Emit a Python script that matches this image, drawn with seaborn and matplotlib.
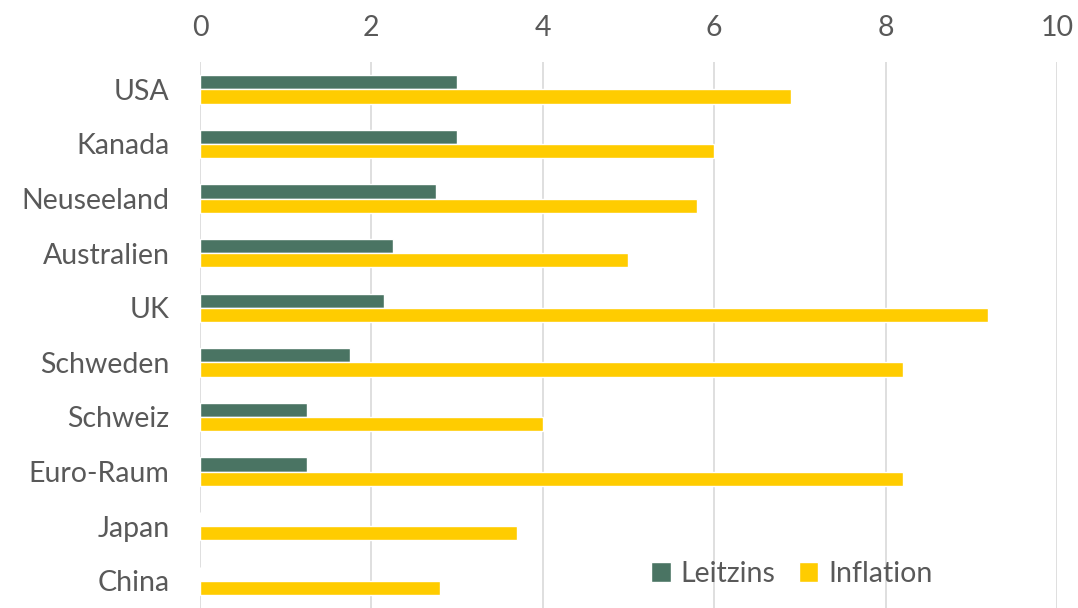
import pandas as pd
import seaborn as sns
import matplotlib.pyplot as plt

# Data
countries = ["USA", "Kanada", "Neuseeland", "Australien", "UK",
             "Schweden", "Schweiz", "Euro-Raum", "Japan", "China"]
leitzins = [3.0, 3.0, 2.75, 2.25, 2.15, 1.75, 1.25, 1.25, 0.0, 0.0]
inflation = [6.9, 6.0, 5.8, 5.0, 9.2, 8.2, 4.0, 8.2, 3.7, 2.8]
series = ["Leitzins", "Inflation"]
colors = ["#4a7463", "#ffcc00"]
x_ticks = [0, 2, 4, 6, 8, 10]

def main():
    sns.set_style("white")
    plt.rcParams['font.family'] = ['Lato', 'DejaVu Sans']

    df = pd.DataFrame({"Land": countries, "Leitzins": leitzins, "Inflation": inflation})
    df_long = df.melt(id_vars="Land", value_vars=series, var_name="Serie", value_name="Wert")

    fig = plt.figure(figsize=(10.78, 6.08), dpi=100)
    ax = fig.add_axes([0.1855, 0.0, 0.795, 0.898])

    sns.barplot(data=df_long, y="Land", x="Wert", hue="Serie", order=countries,
                hue_order=series, palette=colors, orient="h", width=0.52,
                saturation=1, ax=ax)

    ax.set_xlim(0, 10)
    ax.set_xticks(x_ticks)
    ax.set_ylim(len(countries) - 0.5, -0.5)
    ax.xaxis.tick_top()
    ax.set_xlabel("")
    ax.set_ylabel("")
    ax.tick_params(axis="x", length=0, pad=15, labelsize=20.5, labelcolor="#595959")
    ax.tick_params(axis="y", length=0, pad=22, labelsize=20.5, labelcolor="#595959")
    ax.grid(axis="x", color="#d9d9d9", linewidth=1.2)
    ax.set_axisbelow(True)
    for s in ax.spines.values():
        s.set_visible(False)

    ax.legend(loc="lower right", bbox_to_anchor=(0.885, -0.008), ncol=2, frameon=False,
              fontsize=20.5, labelcolor="#595959", handlelength=0.7, handleheight=0.7,
              handletextpad=0.35, columnspacing=0.8)

    fig.savefig("out.png", dpi=100)

if __name__ == "__main__":
    main()
